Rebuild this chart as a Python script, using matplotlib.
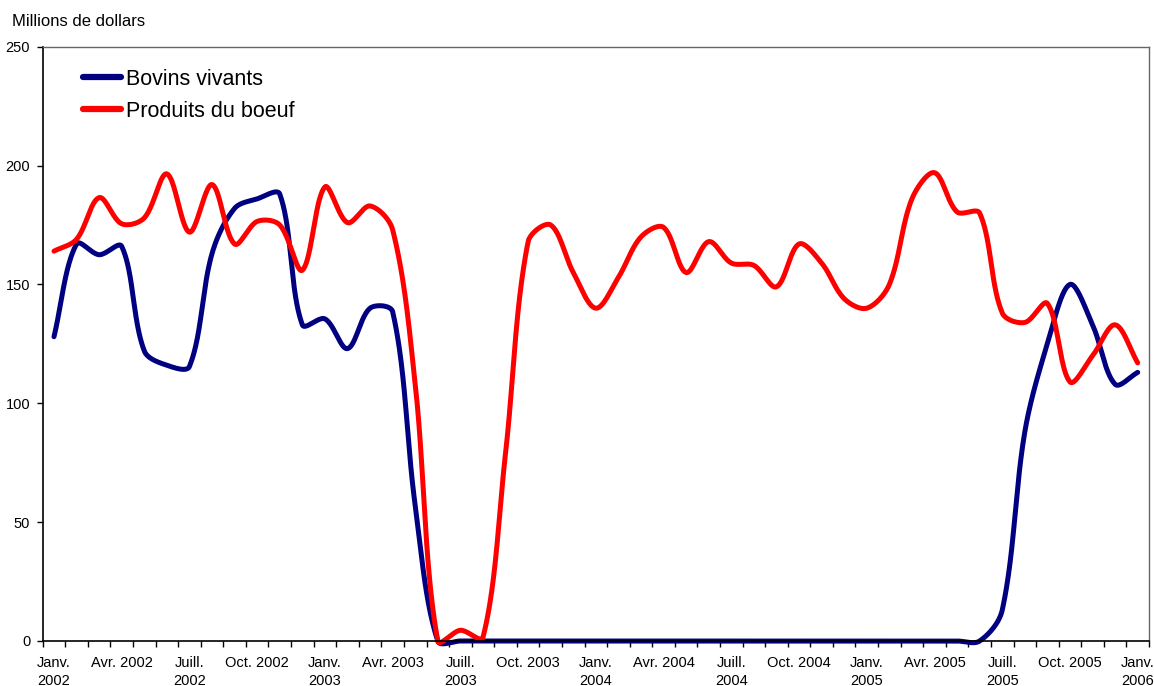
import numpy as np
import matplotlib
matplotlib.use("Agg")
import matplotlib.pyplot as plt
from matplotlib.ticker import FixedLocator, NullFormatter

plt.rcParams['font.family'] = ['Liberation Sans', 'DejaVu Sans']

# Monthly data, Jan 2002 .. Jan 2006 (49 months)
bovins_vivants = [128, 167, 162.5, 166, 122, 116, 115.5, 163, 182, 186, 188, 133,
                  135.5, 123, 140, 138.5, 57, 0, 0, 0, 0, 0, 0, 0,
                  0, 0, 0, 0, 0, 0, 0, 0, 0, 0, 0, 0,
                  0, 0, 0, 0, 0, 0, 13, 88, 125, 150, 133, 108,
                  113]
produits_boeuf = [164, 169, 186.5, 175.5, 178, 196.5, 172, 192, 167, 176.5, 175, 156,
                  191, 176, 183, 173, 108, 0, 4.5, 1.5, 79, 168, 175, 155,
                  140, 153, 170, 174, 155, 168, 159, 158, 149, 167, 159, 144,
                  140, 150, 186, 197, 180.5, 180, 138, 134, 142, 109, 120, 133,
                  117]
tick_labels = ["Janv.\n2002", "Avr. 2002", "Juill.\n2002", "Oct. 2002",
               "Janv.\n2003", "Avr. 2003", "Juill.\n2003", "Oct. 2003",
               "Janv.\n2004", "Avr. 2004", "Juill.\n2004", "Oct. 2004",
               "Janv.\n2005", "Avr. 2005", "Juill.\n2005", "Oct. 2005",
               "Janv.\n2006"]
series_names = ["Bovins vivants", "Produits du boeuf"]
series_colors = ["#000080", "#FF0000"]

# pixel scale of one x unit / one y unit (for distance weighting of the smoothing)
SX, SY = 22.57, 595.0 / 250.0


def smooth(y, n=40):
    """Excel-like smoothed line: Bezier with distance-weighted tangents."""
    y = np.asarray(y, float)
    m = len(y)
    x = np.arange(m, dtype=float)
    P = np.column_stack([x * SX, y * SY])
    xs, ys = [], []
    for i in range(m - 1):
        p0 = P[i - 1] if i > 0 else P[i]
        p1, p2 = P[i], P[i + 1]
        p3 = P[i + 2] if i + 2 < m else P[i + 1]
        d01 = np.linalg.norm(p1 - p0)
        d12 = np.linalg.norm(p2 - p1)
        d23 = np.linalg.norm(p3 - p2)
        f1 = d12 / (d01 + d12) if d01 + d12 > 0 else 0.5
        f2 = d12 / (d12 + d23) if d12 + d23 > 0 else 0.5
        c1 = p1 + (p2 - p0) * f1 / 3.0
        c2 = p2 - (p3 - p1) * f2 / 3.0
        t = np.linspace(0, 1, n, endpoint=(i == m - 2))[:, None]
        B = ((1 - t) ** 3) * p1 + 3 * ((1 - t) ** 2) * t * c1 + 3 * (1 - t) * t ** 2 * c2 + t ** 3 * p2
        xs.append(B[:, 0] / SX)
        ys.append(B[:, 1] / SY)
    return np.concatenate(xs), np.concatenate(ys)


fig = plt.figure(figsize=(11.54, 6.86), dpi=100)
ax = fig.add_axes([42.7 / 1154, 1 - 641 / 686, (1149 - 42.7) / 1154, (641 - 46.7) / 686])

for vals, name, col in zip([bovins_vivants, produits_boeuf], series_names, series_colors):
    sx, sy = smooth(vals)
    ax.plot(sx, sy, color=col, lw=3.6, label=name, solid_capstyle='round', clip_on=False)

n = len(bovins_vivants)
ax.set_xlim(-0.5, n - 0.5)
ax.set_ylim(0, 250)
ax.set_yticks([0, 50, 100, 150, 200, 250])
ax.tick_params(axis='y', direction='out', length=4, width=1, labelsize=10.5, pad=5, colors='black')

ax.xaxis.set_major_locator(FixedLocator(np.arange(0, n, 3)))
ax.set_xticklabels(tick_labels, fontsize=10.5, va='top', linespacing=1.3)
ax.xaxis.set_minor_locator(FixedLocator(np.arange(-0.5, n, 1)))
ax.xaxis.set_minor_formatter(NullFormatter())
ax.tick_params(axis='x', which='major', length=0, pad=11)
ax.tick_params(axis='x', which='minor', length=4, width=1, direction='out')

for s in ['left', 'bottom']:
    ax.spines[s].set_color('black')
    ax.spines[s].set_linewidth(1.2)
for s in ['top', 'right']:
    ax.spines[s].set_color('#666666')
    ax.spines[s].set_linewidth(1.0)

fig.text(11.7 / 1154, 1 - 21.7 / 686, "Millions de dollars", fontsize=12, va='center', ha='left')

leg = ax.legend(loc='upper left', bbox_to_anchor=(82.7 / 1154, 1 - 69 / 686),
                bbox_transform=fig.transFigure, frameon=False, fontsize=15.5,
                handlelength=1.8, handletextpad=0.2, labelspacing=0.5,
                borderpad=0, borderaxespad=0)
for line in leg.get_lines():
    line.set_linewidth(4.5)

fig.savefig("out.png", dpi=100)
